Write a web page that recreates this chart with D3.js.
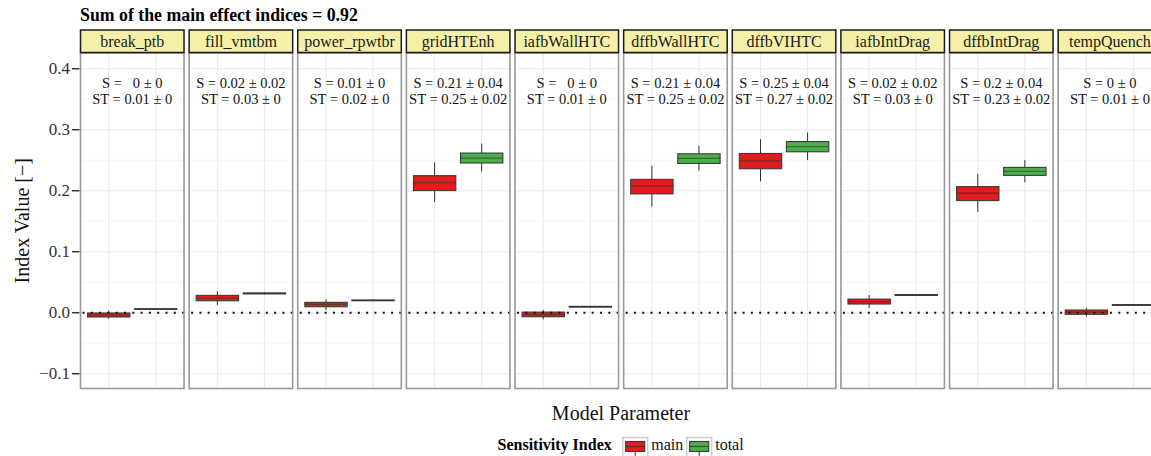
<!DOCTYPE html>
<html><head><meta charset="utf-8">
<script src="https://cdnjs.cloudflare.com/ajax/libs/d3/7.8.5/d3.min.js"></script>
<style>
body{margin:0;background:#fff;}
svg{display:block;font-family:"Liberation Serif","Times New Roman",serif;}
</style></head>
<body><svg id="c" width="1151" height="456"></svg>
<script>
const params = ["break_ptb","fill_vmtbm","power_rpwtbr","gridHTEnh","iafbWallHTC","dffbWallHTC","dffbVIHTC","iafbIntDrag","dffbIntDrag","tempQuench"];
const indexTypes = ["main","total"];
// annotation strings
const sMean  = ["  0","0.02","0.01","0.21","  0","0.21","0.25","0.02","0.2","0"];
const sSd    = ["0","0.02","0","0.04","0","0.04","0.04","0.02","0.04","0"];
const stMean = ["0.01","0.03","0.02","0.25","0.01","0.25","0.27","0.03","0.23","0.01"];
const stSd   = ["0","0","0","0.02","0","0.02","0.02","0","0.02","0"];
// box statistics: main index
const mainLow  = [-0.010, 0.0126, 0.0044, 0.181, -0.011, 0.174, 0.2153, 0.0077, 0.1648, -0.0065];
const mainQ1   = [-0.007, 0.0196, 0.0098, 0.2002, -0.0066, 0.1948, 0.236, 0.0142, 0.1838, -0.0026];
const mainMed  = [-0.004, 0.024, 0.0135, 0.2132, -0.003, 0.2078, 0.249, 0.018, 0.1958, 0.001];
const mainQ3   = [-0.0005, 0.0284, 0.017, 0.2246, 0.001, 0.2186, 0.261, 0.0223, 0.2067, 0.0044];
const mainHigh = [0.003, 0.0354, 0.022, 0.2463, 0.0044, 0.2409, 0.2845, 0.029, 0.2274, 0.0077];
// box statistics: total index
const totalLow  = [0.0045, 0.030, 0.019, 0.2317, 0.0085, 0.2328, 0.2502, 0.0275, 0.2137, 0.0115];
const totalQ1   = [0.0055, 0.0308, 0.0196, 0.2454, 0.0092, 0.2447, 0.2638, 0.0283, 0.2251, 0.012];
const totalMed  = [0.006, 0.0316, 0.0202, 0.2535, 0.0098, 0.2529, 0.2724, 0.0289, 0.2316, 0.0126];
const totalQ3   = [0.0065, 0.0324, 0.0208, 0.2617, 0.0104, 0.2605, 0.2806, 0.0297, 0.2382, 0.0132];
const totalHigh = [0.0075, 0.033, 0.0215, 0.2773, 0.0112, 0.2736, 0.2953, 0.0305, 0.2502, 0.0137];
const yTicks = [-0.1, 0.0, 0.1, 0.2, 0.3, 0.4];
const yMinor = [-0.05, 0.05, 0.15, 0.25, 0.35];
const titleText = "Sum of the main effect indices = 0.92";
const colors = {main:"#E41A1C", total:"#4DAF4A"};

const svg = d3.select("#c");
const panelTop = 53, panelBottom = 388.5, stripTop = 30;
const step = 108.63, gap = 5.1, left0 = 80.5;
const px = d3.scaleBand().domain(params).range([left0, left0 + params.length*step - gap])
  .paddingInner(gap/step).paddingOuter(0);
const bw = px.bandwidth();
const y = d3.scaleLinear().domain([-0.1, 0.4]).range([373.7, 68.7]);
const xi = d3.scaleLinear().domain([0.4, 2.6]).range([0, bw]);
const xPos = t => xi(indexTypes.indexOf(t) + 1);
const boxW = xi(0.9) - xi(0);

// Title
svg.append("text").attr("x", 80).attr("y", 21).attr("font-weight","bold")
  .attr("font-size", 17.8).attr("fill","#000").text(titleText);

const stats = [];
params.forEach((p,i)=>{
  stats.push({p, t:"main", lo:mainLow[i], q1:mainQ1[i], med:mainMed[i], q3:mainQ3[i], hi:mainHigh[i]});
  stats.push({p, t:"total", lo:totalLow[i], q1:totalQ1[i], med:totalMed[i], q3:totalQ3[i], hi:totalHigh[i]});
});

params.forEach((p,i)=>{
  const g = svg.append("g").attr("transform", `translate(${px(p)},0)`);
  g.append("rect").attr("x",0).attr("y",panelTop).attr("width",bw).attr("height",panelBottom-panelTop).attr("fill","#fff");
  g.selectAll(".mn").data(yMinor).enter().append("line")
    .attr("x1",0).attr("x2",bw).attr("y1",d=>y(d)).attr("y2",d=>y(d))
    .attr("stroke","#f2f2f2").attr("stroke-width",0.8);
  g.selectAll(".mj").data(yTicks).enter().append("line")
    .attr("x1",0).attr("x2",bw).attr("y1",d=>y(d)).attr("y2",d=>y(d))
    .attr("stroke","#ebebeb").attr("stroke-width",1.1);
  g.selectAll(".vx").data(indexTypes).enter().append("line")
    .attr("x1",d=>xPos(d)).attr("x2",d=>xPos(d)).attr("y1",panelTop).attr("y2",panelBottom)
    .attr("stroke","#ebebeb").attr("stroke-width",1.1);
  const bs = stats.filter(s=>s.p===p);
  const bg = g.selectAll(".bx").data(bs).enter().append("g");
  bg.append("line").attr("x1",d=>xPos(d.t)).attr("x2",d=>xPos(d.t))
    .attr("y1",d=>y(d.hi)).attr("y2",d=>y(d.lo)).attr("stroke","#333").attr("stroke-width",1);
  bg.append("rect").attr("x",d=>xPos(d.t)-boxW/2).attr("width",boxW)
    .attr("y",d=>y(d.q3)).attr("height",d=>Math.max(0.5,y(d.q1)-y(d.q3)))
    .attr("fill",d=>colors[d.t]).attr("stroke","#3a3a3a").attr("stroke-width",1.1);
  bg.append("line").attr("x1",d=>xPos(d.t)-boxW/2).attr("x2",d=>xPos(d.t)+boxW/2)
    .attr("y1",d=>y(d.med)).attr("y2",d=>y(d.med)).attr("stroke","#333").attr("stroke-opacity",0.6).attr("stroke-width",1.3);
  g.append("line").attr("x1",2).attr("x2",bw).attr("y1",y(0)).attr("y2",y(0))
    .attr("stroke","#111").attr("stroke-width",2).attr("stroke-dasharray","2,6.3");
  const cx = bw/2;
  g.append("text").attr("x",cx).attr("y",88).attr("text-anchor","middle").attr("font-size",14.5)
    .style("white-space","pre").attr("fill","#111")
    .text(`S = ${sMean[i]} \u00b1 ${sSd[i]}`);
  g.append("text").attr("x",cx).attr("y",103.5).attr("text-anchor","middle").attr("font-size",14.5)
    .style("white-space","pre").attr("fill","#111")
    .text(`ST = ${stMean[i]} \u00b1 ${stSd[i]}`);
  g.append("rect").attr("x",0).attr("y",panelTop).attr("width",bw).attr("height",panelBottom-panelTop)
    .attr("fill","none").attr("stroke","#999").attr("stroke-width",1.6);
  g.append("rect").attr("x",0).attr("y",stripTop).attr("width",bw).attr("height",panelTop-stripTop-0.5)
    .attr("fill","#f5f0a8").attr("stroke","#1a1a1a").attr("stroke-width",1.5);
  g.append("text").attr("x",cx).attr("y",47).attr("text-anchor","middle").attr("font-size",16)
    .attr("fill","#1a1a1a").text(p);
});

// y axis
const yAx = svg.append("g");
yAx.selectAll(".tk").data(yTicks).enter().append("line")
  .attr("x1",72).attr("x2",79.5).attr("y1",d=>y(d)).attr("y2",d=>y(d)).attr("stroke","#333").attr("stroke-width",1.5);
yAx.selectAll(".tl").data(yTicks).enter().append("text")
  .attr("x",70).attr("y",d=>y(d)+5.5).attr("text-anchor","end").attr("font-size",17).attr("fill","#333")
  .text(d=>d3.format(".1f")(d).replace("-","\u2212"));
svg.append("text").attr("transform",`translate(29,${(panelTop+panelBottom)/2}) rotate(-90)`)
  .attr("text-anchor","middle").attr("font-size",20).attr("fill","#111").text("Index Value [\u2212]");
svg.append("text").attr("x",621).attr("y",420).attr("text-anchor","middle").attr("font-size",20)
  .attr("fill","#111").text("Model Parameter");

// legend
const lg = svg.append("g");
lg.append("text").attr("x",497.5).attr("y",450).attr("font-weight","bold").attr("font-size",16).text("Sensitivity Index");
const keyX = {main:622.7, total:686.7};
indexTypes.forEach(t=>{
  const kx = keyX[t];
  lg.append("rect").attr("x",kx).attr("y",437.5).attr("width",25).attr("height",25)
    .attr("fill","#fff").attr("stroke","#d0d0d0").attr("stroke-width",1.5);
  lg.append("line").attr("x1",kx+12.5).attr("x2",kx+12.5).attr("y1",451.5).attr("y2",456).attr("stroke","#333");
  lg.append("rect").attr("x",kx+3).attr("y",441.5).attr("width",19).attr("height",10)
    .attr("fill",colors[t]).attr("stroke","#3a3a3a").attr("stroke-width",1.1);
  lg.append("line").attr("x1",kx+3).attr("x2",kx+22).attr("y1",446.5).attr("y2",446.5).attr("stroke","#333").attr("stroke-opacity",0.7).attr("stroke-width",1.3);
  lg.append("text").attr("x",kx+28.5).attr("y",450).attr("font-size",16).attr("fill","#111").text(t);
});
</script></body></html>
